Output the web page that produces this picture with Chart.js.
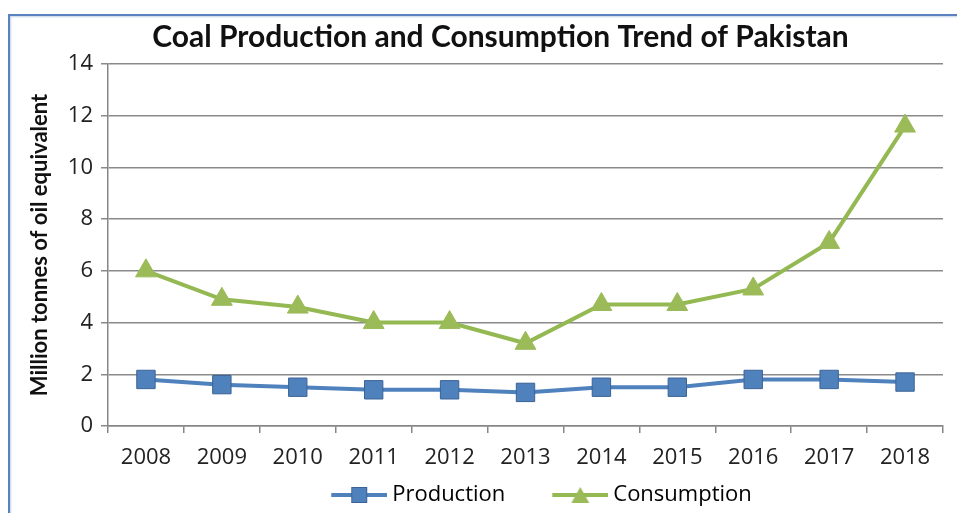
<!DOCTYPE html>
<html>
<head>
<meta charset="utf-8">
<script src="https://cdn.jsdelivr.net/npm/chart.js@4"></script>
<style>
  html, body { margin: 0; padding: 0; background: #fff; overflow: hidden; }
  #wrap { position: relative; width: 957px; height: 513px; }
  #frame {
    position: absolute; left: 8px; top: 14px; width: 1000px; height: 600px;
    border-left: 2px solid #5a82be; border-top: 2px solid #5a82be;
    box-shadow: inset 1px 1px 2px rgba(90,130,190,0.35);
  }
  canvas { position: absolute; left: 0; top: 0; }
</style>
</head>
<body>
<div id="wrap">
  <div id="frame"></div>
  <canvas id="c" width="957" height="513"></canvas>
</div>
<script>
const years = ['2008','2009','2010','2011','2012','2013','2014','2015','2016','2017','2018'];
const production = [1.8, 1.6, 1.5, 1.4, 1.4, 1.3, 1.5, 1.5, 1.8, 1.8, 1.7];
const consumption = [6.0, 4.9, 4.6, 4.0, 4.0, 3.2, 4.7, 4.7, 5.3, 7.1, 11.6];
const yTicks = [0, 2, 4, 6, 8, 10, 12, 14];

const blue = '#4f81bd', blueEdge = '#3c6396';
const green = '#9bbb59', greenLine = '#94b852';

// Legend box width; each swatch image is a bit wider so its line runs close to the text
const LEGEND_BOX = 82;

// Legend swatch: a short line with the series marker in its middle, right-aligned in the image
function swatch(kind) {
  const c = document.createElement('canvas');
  c.width = LEGEND_BOX + 12; c.height = 20;
  const g = c.getContext('2d');
  const x0 = c.width - 56, mid = x0 + 28;
  g.lineWidth = 4;
  g.strokeStyle = kind === 'rect' ? blue : greenLine;
  g.beginPath(); g.moveTo(x0, 10); g.lineTo(c.width, 10); g.stroke();
  if (kind === 'rect') {
    g.fillStyle = blue; g.strokeStyle = blueEdge; g.lineWidth = 1;
    g.fillRect(mid - 8, 2, 16, 16); g.strokeRect(mid - 7.5, 2.5, 15, 15);
  } else {
    g.fillStyle = green;
    g.beginPath(); g.moveTo(mid, 2); g.lineTo(mid + 9, 18); g.lineTo(mid - 9, 18); g.closePath(); g.fill();
  }
  return c;
}
const swatchProd = swatch('rect');
const swatchCons = swatch('tri');

new Chart(document.getElementById('c'), {
  type: 'line',
  data: {
    labels: years,
    datasets: [
      {
        label: 'Production', data: production,
        borderColor: blue, borderWidth: 4,
        pointStyle: 'rect', pointRadius: 13, pointHoverRadius: 13,
        pointBackgroundColor: blue, pointBorderColor: blueEdge, pointBorderWidth: 1
      },
      {
        label: 'Consumption', data: consumption,
        borderColor: greenLine, borderWidth: 4,
        pointStyle: 'triangle', pointRadius: 12, pointHoverRadius: 12,
        pointBackgroundColor: green, pointBorderColor: green, pointBorderWidth: 1
      }
    ]
  },
  options: {
    responsive: false, animation: false,
    layout: { padding: { left: 58, right: 14, top: 16, bottom: -3 } },
    plugins: {
      title: {
        display: true, text: 'Coal Production and Consumption Trend of Pakistan',
        color: '#111', font: { family: 'Lato', size: 30, weight: 'bold' },
        padding: { top: 3, bottom: 9 }
      },
      legend: {
        position: 'bottom',
        fullSize: false,
        labels: {
          usePointStyle: true, pointStyleWidth: LEGEND_BOX,
          color: '#222', font: { family: 'Open Sans', size: 22, lineHeight: 0.8 },
          padding: 15,
          generateLabels: () => [
            { text: 'Production', pointStyle: swatchProd, fillStyle: blue, strokeStyle: blue, lineWidth: 0, datasetIndex: 0 },
            { text: 'Consumption', pointStyle: swatchCons, fillStyle: green, strokeStyle: green, lineWidth: 0, datasetIndex: 1 }
          ]
        }
      },
      tooltip: { enabled: false }
    },
    scales: {
      x: {
        offset: true,
        afterFit: s => { s.height = 43; },
        grid: { display: true, offset: true, drawOnChartArea: false, color: '#868686', tickLength: 7, lineWidth: 1.5 },
        border: { color: '#868686', width: 1.5 },
        ticks: { color: '#222', font: { family: 'Open Sans', size: 22 }, padding: 12 }
      },
      y: {
        min: 0, max: 14,
        afterBuildTicks: s => { s.ticks = yTicks.map(v => ({ value: v })); },
        afterFit: s => { s.width = 50; },
        grid: { color: '#8a8a8a', lineWidth: 1.5, tickLength: 7 },
        border: { color: '#868686', width: 1.5 },
        ticks: { color: '#222', font: { family: 'Open Sans', size: 22 }, padding: 8 },
        title: {
          display: true, text: 'Million tonnes of oil equivalent',
          color: '#111', font: { family: 'Lato', size: 22, weight: 'bold' },
          padding: { top: -31, bottom: 0 }
        }
      }
    }
  }
});
</script>
</body>
</html>
